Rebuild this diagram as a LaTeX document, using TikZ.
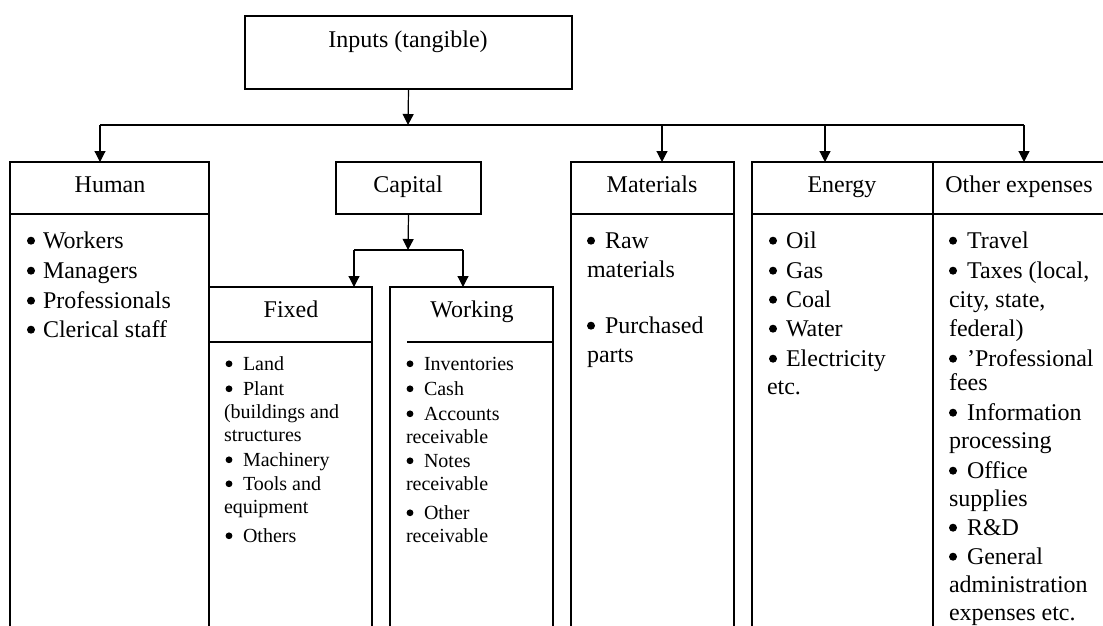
\documentclass[tikz,border=0pt]{standalone}
\usepackage{fontspec}
\setmainfont{Liberation Serif}
\usetikzlibrary{arrows.meta,calc}

\begin{document}
\begin{tikzpicture}[x=1pt,y=-1pt,line width=1.2pt,
  every node/.style={inner sep=0pt,outer sep=0pt},
  frame/.style={draw,rectangle,anchor=north west},
  head/.style={anchor=base,font=\fontsize{24}{29}\selectfont},
  bigitem/.style={anchor=base west,font=\fontsize{24}{29}\selectfont,
    text height=0.68em,text depth=0.18em},
  smallitem/.style={anchor=base west,font=\fontsize{20}{24}\selectfont,
    text height=0.68em,text depth=0.18em},
  arr/.style={-{Triangle[length=11pt,width=11pt]}}]
\useasboundingbox (0,0) rectangle (1103,626);
\clip (0,0) rectangle (1103,626);

% ---- boxes (the columns run on past the lower edge) ----
\node[frame,minimum width=327pt,minimum height=73pt]  (inputs)    at (245,16)  {};
\node[frame,minimum width=199pt,minimum height=500pt] (human)     at (10,162)  {};
\node[frame,minimum width=145pt,minimum height=52pt]  (capital)   at (336,162) {};
\node[frame,minimum width=163pt,minimum height=500pt] (materials) at (571,162) {};
\node[frame,minimum width=181pt,minimum height=500pt] (energy)    at (752,162) {};
\node[frame,minimum width=180pt,minimum height=500pt] (other)     at (933,162) {};
\node[frame,minimum width=163pt,minimum height=400pt] (fixed)     at (209,287) {};
\node[frame,minimum width=163pt,minimum height=400pt] (working)   at (390,287) {};

% ---- header rules ----
\draw (human.west |- 0,214) -- (human.east |- 0,214);
\draw (materials.west |- 0,214) -- (materials.east |- 0,214);
\draw (energy.west |- 0,214) -- (other.east |- 0,214);
\draw (fixed.west |- 0,342) -- (fixed.east |- 0,342);
\draw (407,342) -- (working.east |- 0,342);

% ---- headings ----
\node[head] (tInputs)    at (408,48)  {Inputs (tangible)};
\node[head] (tHuman)     at (110,192) {Human};
\node[head] (tCapital)   at (408,192) {Capital};
\node[head] (tMaterials) at (652,192) {Materials};
\node[head] (tEnergy)    at (842,192) {Energy};
\node[head] (tOther)     at (1019,192) {Other expenses};
\node[head] (tFixed)     at (291,317) {Fixed};
\node[head] (tWorking)   at (472,317) {Working};

% ---- connectors ----
\coordinate (bus)  at (408,125);
\coordinate (busH) at (100,125);
\coordinate (busM) at (662,125);
\coordinate (busE) at (825,125);
\coordinate (busO) at (1024,125);
\draw[arr] (inputs.south) -- (bus);
\draw (busH) -- (busO);
\draw[arr] (busH) -- (busH |- human.north);
\draw[arr] (busM) -- (busM |- materials.north);
\draw[arr] (busE) -- (busE |- energy.north);
\draw[arr] (busO) -- (busO |- other.north);

\coordinate (cap)  at (408,250);
\coordinate (capF) at (354,250);
\coordinate (capW) at (463,250);
\draw[arr] (capital.south) -- (cap);
\draw (capF) -- (capW);
\draw[arr] (capF) -- (capF |- fixed.north);
\draw[arr] (capW) -- (capW |- working.north);

% ---- lists: baseline / x / text / bullet flag ----
% Human
\foreach \y/\x/\t/\b [count=\i] in {248/43/{Workers}/1,278/43/{Managers}/1,
    308/43/{Professionals}/1,337/43/{Clerical staff}/1}
  {\node[bigitem] (hum\i) at (\x,\y) {\t};
   \ifnum\b=1 \fill (31,\y-7.3) circle (4pt);\fi}

% Fixed
\foreach \y/\x/\t/\b [count=\i] in {370/243/{Land}/1,395/243/{Plant}/1,
    418/224/{(buildings and}/0,441/224/{structures}/0,466/243/{Machinery}/1,
    490/243/{Tools and}/1,513/224/{equipment}/0,542/243/{Others}/1}
  {\node[smallitem] (fix\i) at (\x,\y) {\t};
   \ifnum\b=1 \fill (229,\y-6.2) circle (3.4pt);\fi}

% Working
\foreach \y/\x/\t/\b [count=\i] in {370/424/{Inventories}/1,395/424/{Cash}/1,
    420/424/{Accounts}/1,443/406/{receivable}/0,467/424/{Notes}/1,
    490/406/{receivable}/0,519/424/{Other}/1,542/406/{receivable}/0}
  {\node[smallitem] (wor\i) at (\x,\y) {\t};
   \ifnum\b=1 \fill (410,\y-6.2) circle (3.4pt);\fi}

% Materials
\foreach \y/\x/\t/\b [count=\i] in {248/605/{Raw}/1,277/587/{materials}/0,
    333/605/{Purchased}/1,362/587/{parts}/0}
  {\node[bigitem] (mat\i) at (\x,\y) {\t};
   \ifnum\b=1 \fill (591,\y-7.3) circle (4pt);\fi}

% Energy
\foreach \y/\x/\t/\b [count=\i] in {248/786/{Oil}/1,278/786/{Gas}/1,
    307/786/{Coal}/1,336/786/{Water}/1,366/786/{Electricity}/1,394/767/{etc.}/0}
  {\node[bigitem] (ene\i) at (\x,\y) {\t};
   \ifnum\b=1 \fill (773,\y-7.3) circle (4pt);\fi}

% Other expenses
\foreach \y/\x/\t/\b [count=\i] in {248/967/{Travel}/1,278/967/{Taxes (local,}/1,
    307/949/{city, state,}/0,336/949/{federal)}/0,366/967/{’Professional}/1,
    390/949/{fees}/0,420/967/{Information}/1,448/949/{processing}/0,
    478/967/{Office}/1,506/949/{supplies}/0,535/967/{R\&D}/1,
    564/967/{General}/1,592/949/{administration}/0,620/949/{expenses etc.}/0}
  {\node[bigitem] (oth\i) at (\x,\y) {\t};
   \ifnum\b=1 \fill (953,\y-7.3) circle (4pt);\fi}
\end{tikzpicture}
\end{document}
